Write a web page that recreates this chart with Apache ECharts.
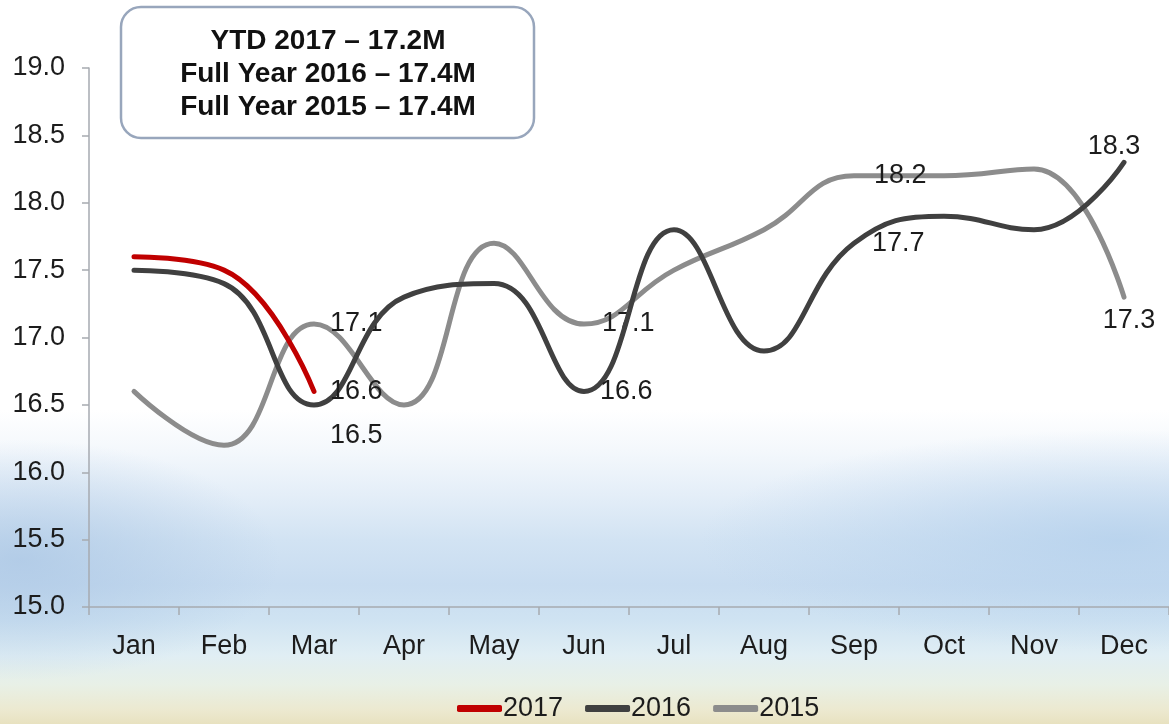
<!DOCTYPE html>
<html>
<head>
<meta charset="utf-8">
<script src="https://cdn.jsdelivr.net/npm/echarts@6/dist/echarts.min.js"></script>
<style>
  html, body { margin: 0; padding: 0; }
  body {
    width: 1169px; height: 724px; overflow: hidden;
    background:
      radial-gradient(ellipse 260px 120px at 20px 560px, rgba(170,198,228,0.75), rgba(170,198,228,0) 100%),
      radial-gradient(ellipse 420px 110px at 1120px 540px, rgba(180,208,236,0.8), rgba(180,208,236,0) 100%),
      linear-gradient(to bottom,
        #ffffff 0px, #ffffff 410px, #f4f8fc 450px, #e4eef8 495px,
        #d2e3f3 540px, #c8dcf0 585px, #cfe3f2 620px, #e0eef4 655px,
        #e8f0e6 685px, #ece9d0 710px, #e8e2c0 724px);
  }
  #chart { width: 1169px; height: 724px; }
</style>
</head>
<body>
<div id="chart"></div>
<script>
// Monthly sales, millions of units
const months = ['Jan', 'Feb', 'Mar', 'Apr', 'May', 'Jun', 'Jul', 'Aug', 'Sep', 'Oct', 'Nov', 'Dec'];
const sales2017 = [17.6, 17.5, 16.6];
const sales2016 = [17.5, 17.4, 16.5, 17.3, 17.4, 16.6, 17.8, 16.9, 17.7, 17.9, 17.8, 18.3];
const sales2015 = [16.6, 16.2, 17.1, 16.5, 17.7, 17.1, 17.5, 17.8, 18.2, 18.2, 18.25, 17.3];
const seriesNames = ['2017', '2016', '2015'];
const summaryLines = ['YTD 2017 \u2013 17.2M', 'Full Year 2016 \u2013 17.4M', 'Full Year 2015 \u2013 17.4M'];
const yMin = 15.0, yMax = 19.0, yStep = 0.5;

const FONT = '"Liberation Sans", Arial, sans-serif';
const textColor = '#1c1c1c';
const textSize = 27;

// which points carry a value label, and where it sits
const labelPlacement = {
  '2017': { 2: { position: 'right', distance: 16 } },
  '2016': {
    2: { position: 'right', distance: 16, offset: [0, 31] },
    5: { position: 'right', distance: 16 },
    8: { position: 'right', distance: 18 },
    11: { position: 'top', distance: 2, offset: [-10, 0] }
  },
  '2015': {
    2: { position: 'right', distance: 16 },
    5: { position: 'right', distance: 18 },
    8: { position: 'right', distance: 20 },
    11: { position: 'bottom', distance: 10, offset: [5, 0] }
  }
};

function buildData(name, values) {
  const marks = labelPlacement[name] || {};
  return values.map((v, i) => {
    const item = { value: v };
    if (marks[i]) {
      item.label = Object.assign({
        show: true,
        formatter: p => Number(p.value).toFixed(1),
        color: textColor,
        fontSize: textSize,
        fontFamily: FONT
      }, marks[i]);
    }
    return item;
  });
}

function lineSeries(name, values, color, z) {
  return {
    name: name,
    type: 'line',
    data: buildData(name, values),
    smooth: 0.45,
    symbol: 'circle',
    symbolSize: 0.1,
    showSymbol: true,
    z: z,
    itemStyle: { color: color },
    lineStyle: { color: color, width: 5, cap: 'round' },
    label: { show: false },
    emphasis: { disabled: true },
    animation: false
  };
}

const chart = echarts.init(document.getElementById('chart'), null, { renderer: 'canvas' });

chart.setOption({
  backgroundColor: 'transparent',
  animation: false,
  grid: { left: 89, right: -4, top: 68, bottom: 117, containLabel: false },
  legend: {
    top: 690,
    left: 452,
    itemWidth: 45,
    itemHeight: 7,
    itemGap: 22,
    icon: 'roundRect',
    data: seriesNames,
    textStyle: { color: textColor, fontSize: textSize, fontFamily: FONT, padding: [0, 0, 0, -4] }
  },
  xAxis: {
    type: 'category',
    data: months,
    boundaryGap: true,
    axisLine: { lineStyle: { color: '#a6aab0', width: 1.5 } },
    axisTick: { show: true, length: 8, lineStyle: { color: '#a6aab0', width: 1.5 } },
    axisLabel: { color: textColor, fontSize: textSize, fontFamily: FONT, margin: 26, interval: 0 },
    splitLine: { show: false }
  },
  yAxis: {
    type: 'value',
    min: yMin,
    max: yMax,
    interval: yStep,
    axisLine: { show: true, lineStyle: { color: '#a6aab0', width: 1.5 } },
    axisTick: { show: true, length: 7, lineStyle: { color: '#a6aab0', width: 1.5 } },
    axisLabel: {
      color: textColor, fontSize: textSize, fontFamily: FONT, margin: 24,
      formatter: v => v.toFixed(1)
    },
    splitLine: { show: false }
  },
  series: [
    lineSeries('2017', sales2017, '#c00000', 5),
    lineSeries('2016', sales2016, '#404040', 4),
    lineSeries('2015', sales2015, '#8c8c8c', 3)
  ],
  graphic: [
    {
      type: 'rect',
      x: 121, y: 7,
      shape: { width: 413, height: 131, r: 20 },
      style: { fill: '#ffffff', stroke: '#98a6bc', lineWidth: 2.5 },
      z: 10
    },
    {
      type: 'text',
      x: 328, y: 25,
      style: {
        text: summaryLines.join('\n'),
        fontSize: 28,
        fontWeight: 'bold',
        fontFamily: FONT,
        fill: '#111111',
        align: 'center',
        verticalAlign: 'top',
        lineHeight: 33
      },
      z: 11
    }
  ]
});
</script>
</body>
</html>
